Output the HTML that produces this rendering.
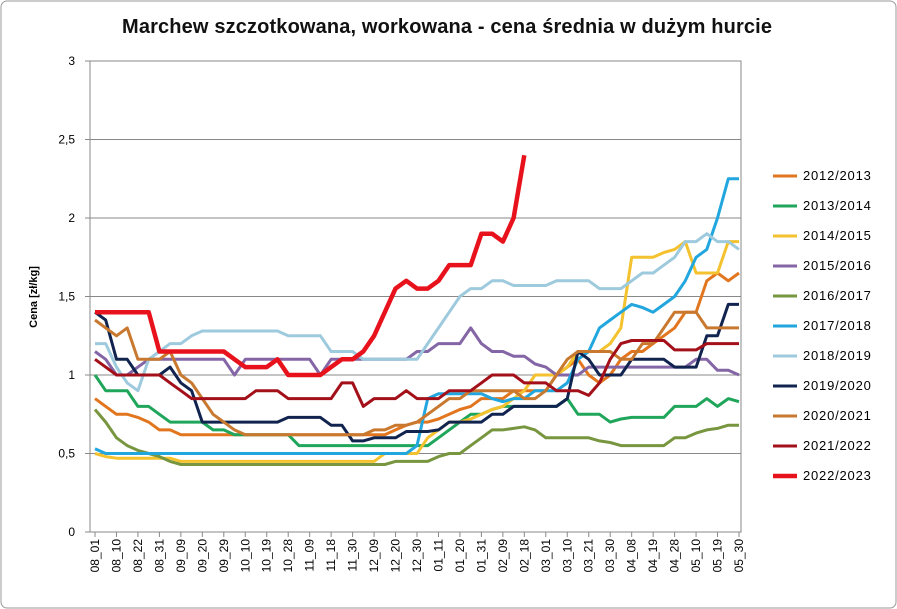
<!DOCTYPE html>
<html><head><meta charset="utf-8"><style>
body{margin:0;background:#fff;}
#wrap{position:relative;width:897px;height:609px;overflow:hidden;}
svg text{font-family:"Liberation Sans",sans-serif;}
</style></head><body>
<div id="wrap">
<svg id="svg" width="897" height="609" viewBox="0 0 897 609" xmlns="http://www.w3.org/2000/svg">
<rect x="1" y="1" width="895" height="607" rx="6" fill="#fff" stroke="#999"/>
<text x="447" y="33" text-anchor="middle" font-size="20" font-weight="bold" fill="#111" textLength="650">Marchew szczotkowana, workowana - cena średnia w dużym hurcie</text>
<text transform="translate(37,297) rotate(-90)" text-anchor="middle" font-size="11" font-weight="bold" fill="#000">Cena [zł/kg]</text>
<g id="grid"></g><g id="series"></g><g id="xl"></g><g id="legend"></g>
</svg></div>
<script>
const xLabels=["08_01","08_10","08_22","08_31","09_09","09_20","09_29","10_10","10_19","10_28","11_09","11_18","11_30","12_09","12_20","12_30","01_11","01_20","01_31","02_09","02_18","03_01","03_10","03_21","03_30","04_08","04_19","04_28","05_10","05_19","05_30"];
const yTicks=[0,0.5,1,1.5,2,2.5,3];
const yTickLabels=["0","0,5","1","1,5","2","2,5","3"];
const seriesNames=["2012/2013","2013/2014","2014/2015","2015/2016","2016/2017","2017/2018","2018/2019","2019/2020","2020/2021","2021/2022","2022/2023"];
const s2012=[0.85,0.8,0.75,0.75,0.73,0.7,0.65,0.65,0.62,0.62,0.62,0.62,0.62,0.62,0.62,0.62,0.62,0.62,0.62,0.62,0.62,0.62,0.62,0.62,0.62,0.62,0.62,0.62,0.65,0.68,0.7,0.7,0.72,0.75,0.78,0.8,0.85,0.85,0.85,0.9,0.9,0.9,0.9,1.0,1.05,1.1,1.0,0.95,1.0,1.1,1.15,1.15,1.2,1.25,1.3,1.4,1.4,1.6,1.65,1.6,1.65];
const s2013=[1.0,0.9,0.9,0.9,0.8,0.8,0.75,0.7,0.7,0.7,0.7,0.65,0.65,0.62,0.62,0.62,0.62,0.62,0.62,0.55,0.55,0.55,0.55,0.55,0.55,0.55,0.55,0.55,0.55,0.55,0.55,0.55,0.6,0.65,0.7,0.75,0.75,0.78,0.8,0.8,0.8,0.8,0.8,0.8,0.85,0.75,0.75,0.75,0.7,0.72,0.73,0.73,0.73,0.73,0.8,0.8,0.8,0.85,0.8,0.85,0.83];
const s2014=[0.5,0.48,0.47,0.47,0.47,0.47,0.47,0.47,0.45,0.45,0.45,0.45,0.45,0.45,0.45,0.45,0.45,0.45,0.45,0.45,0.45,0.45,0.45,0.45,0.45,0.45,0.45,0.5,0.5,0.5,0.5,0.6,0.65,0.7,0.7,0.72,0.75,0.78,0.8,0.85,0.9,1.0,1.0,1.0,1.05,1.15,1.15,1.15,1.2,1.3,1.75,1.75,1.75,1.78,1.8,1.85,1.65,1.65,1.65,1.85,1.85];
const s2015=[1.15,1.1,1.0,1.0,1.05,1.1,1.1,1.1,1.1,1.1,1.1,1.1,1.1,1.0,1.1,1.1,1.1,1.1,1.1,1.1,1.1,1.0,1.1,1.1,1.1,1.1,1.1,1.1,1.1,1.1,1.15,1.15,1.2,1.2,1.2,1.3,1.2,1.15,1.15,1.12,1.12,1.07,1.05,1.0,1.0,1.0,1.05,1.05,1.05,1.05,1.05,1.05,1.05,1.05,1.05,1.05,1.1,1.1,1.03,1.03,1.0];
const s2016=[0.78,0.7,0.6,0.55,0.52,0.5,0.48,0.45,0.43,0.43,0.43,0.43,0.43,0.43,0.43,0.43,0.43,0.43,0.43,0.43,0.43,0.43,0.43,0.43,0.43,0.43,0.43,0.43,0.45,0.45,0.45,0.45,0.48,0.5,0.5,0.55,0.6,0.65,0.65,0.66,0.67,0.65,0.6,0.6,0.6,0.6,0.6,0.58,0.57,0.55,0.55,0.55,0.55,0.55,0.6,0.6,0.63,0.65,0.66,0.68,0.68];
const s2017=[0.53,0.5,0.5,0.5,0.5,0.5,0.5,0.5,0.5,0.5,0.5,0.5,0.5,0.5,0.5,0.5,0.5,0.5,0.5,0.5,0.5,0.5,0.5,0.5,0.5,0.5,0.5,0.5,0.5,0.5,0.55,0.85,0.88,0.88,0.88,0.88,0.88,0.85,0.83,0.85,0.85,0.9,0.9,0.9,0.95,1.1,1.15,1.3,1.35,1.4,1.45,1.43,1.4,1.45,1.5,1.6,1.75,1.8,2.0,2.25,2.25];
const s2018=[1.2,1.2,1.05,0.95,0.9,1.1,1.15,1.2,1.2,1.25,1.28,1.28,1.28,1.28,1.28,1.28,1.28,1.28,1.25,1.25,1.25,1.25,1.15,1.15,1.15,1.1,1.1,1.1,1.1,1.1,1.1,1.2,1.3,1.4,1.5,1.55,1.55,1.6,1.6,1.57,1.57,1.57,1.57,1.6,1.6,1.6,1.6,1.55,1.55,1.55,1.6,1.65,1.65,1.7,1.75,1.85,1.85,1.9,1.85,1.85,1.8];
const s2019=[1.4,1.35,1.1,1.1,1.0,1.0,1.0,1.05,0.95,0.9,0.7,0.7,0.7,0.7,0.7,0.7,0.7,0.7,0.73,0.73,0.73,0.73,0.68,0.68,0.58,0.58,0.6,0.6,0.6,0.64,0.64,0.64,0.65,0.7,0.7,0.7,0.7,0.75,0.75,0.8,0.8,0.8,0.8,0.8,0.85,1.15,1.1,1.0,1.0,1.0,1.1,1.1,1.1,1.1,1.05,1.05,1.05,1.25,1.25,1.45,1.45];
const s2020=[1.35,1.3,1.25,1.3,1.1,1.1,1.1,1.15,1.0,0.95,0.85,0.75,0.7,0.65,0.62,0.62,0.62,0.62,0.62,0.62,0.62,0.62,0.62,0.62,0.62,0.62,0.65,0.65,0.68,0.68,0.7,0.75,0.8,0.85,0.85,0.9,0.9,0.9,0.9,0.9,0.85,0.85,0.9,1.0,1.1,1.15,1.15,1.15,1.15,1.1,1.1,1.2,1.2,1.3,1.4,1.4,1.4,1.3,1.3,1.3,1.3];
const s2021=[1.1,1.05,1.0,1.0,1.0,1.0,1.0,0.95,0.9,0.85,0.85,0.85,0.85,0.85,0.85,0.9,0.9,0.9,0.85,0.85,0.85,0.85,0.85,0.95,0.95,0.8,0.85,0.85,0.85,0.9,0.85,0.85,0.85,0.9,0.9,0.9,0.95,1.0,1.0,1.0,0.95,0.95,0.95,0.9,0.9,0.9,0.87,0.95,1.1,1.2,1.22,1.22,1.22,1.22,1.16,1.16,1.16,1.2,1.2,1.2,1.2];
const s2022=[1.4,1.4,1.4,1.4,1.4,1.4,1.15,1.15,1.15,1.15,1.15,1.15,1.15,1.1,1.05,1.05,1.05,1.1,1.0,1.0,1.0,1.0,1.05,1.1,1.1,1.15,1.25,1.4,1.55,1.6,1.55,1.55,1.6,1.7,1.7,1.7,1.9,1.9,1.85,2.0,2.4];
const seriesData=[s2012,s2013,s2014,s2015,s2016,s2017,s2018,s2019,s2020,s2021,s2022];
const colors=["#E2761F","#1FA65B","#F4C22E","#8466A6","#78963F","#22A6DE","#9ECADD","#11234F","#C9792F","#A3101A","#E8121C"];
const widths=[3,3,3,3,3,3,3,3,3,3,4.5];
const NS="http://www.w3.org/2000/svg";
const X0=90,X1=741,Y0=532,Y1=61,YMAX=3;
const nPts=61;
function xs(i){return 95+i*(739-95)/(nPts-1);}
function ys(v){return Y0-(v/YMAX)*(Y0-Y1);}
function mk(tag,attrs,parent){const e=document.createElementNS(NS,tag);for(const k in attrs)e.setAttribute(k,attrs[k]);parent.appendChild(e);return e;}
const grid=document.getElementById('grid');
const pb=mk('rect',{x:X0,y:Y1,width:X1-X0,height:Y0-Y1,fill:'none',stroke:'#888','stroke-width':1},grid);


yTicks.forEach((t,k)=>{
  const l=mk('line',{x1:X0,x2:X1,y1:ys(t),y2:ys(t),stroke:'#888','stroke-width':1},grid);
  
  
  const tk=mk('line',{x1:X0-5,x2:X0,y1:ys(t),y2:ys(t),stroke:'#888'},grid);
  
  
  const tx=mk('text',{x:75,y:ys(t)+4,'text-anchor':'end','font-size':12,fill:'#000'},grid);
  tx.textContent=yTickLabels[k];
  
  
});
const xl=document.getElementById('xl');
xLabels.forEach((lab,k)=>{
  const x=xs(k*2);
  const tk=mk('line',{x1:x,x2:x,y1:Y0,y2:Y0+5,stroke:'#888'},xl);
  
  
  const t=mk('text',{transform:`translate(${x+4},539) rotate(-90)`,'text-anchor':'end','font-size':12,fill:'#000'},xl);
  t.textContent=lab;
  
  
});
const sg=document.getElementById('series');
seriesData.forEach((arr,s)=>{
  const pts=arr.map((v,i)=>xs(i).toFixed(1)+','+ys(v).toFixed(1)).join(' ');
  const p=mk('polyline',{points:pts,fill:'none',stroke:colors[s],'stroke-width':widths[s],'stroke-linejoin':'round'},sg);
  
  
});
const lg=document.getElementById('legend');
seriesNames.forEach((n,s)=>{
  const y=176+s*30;
  const g=mk('g',{},lg);
  
  
  mk('line',{x1:773,x2:797,y1:y,y2:y,stroke:colors[s],'stroke-width':widths[s]},g);
  const t=mk('text',{x:803,y:y+4,'font-size':13,'letter-spacing':'0.8',fill:'#000'},g);
  t.textContent=n;
});
</script>
</body></html>
